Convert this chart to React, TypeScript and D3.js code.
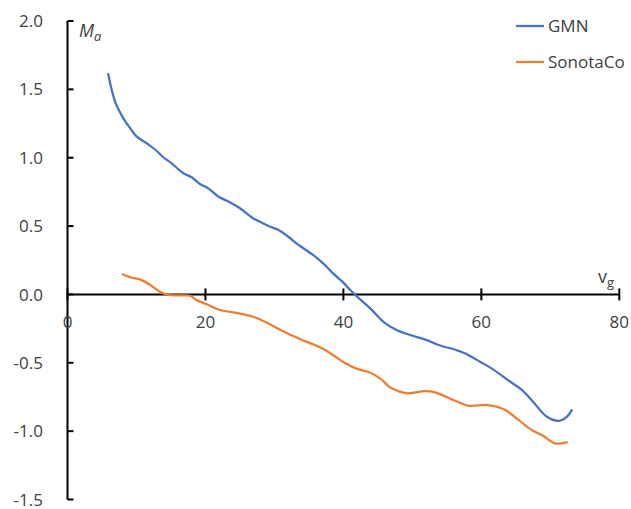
import React from "react";
import * as d3 from "d3";

const gmnV = [5.9, 6.9, 8.1, 9.1, 10.0, 11.5, 12.9, 13.9, 15.1, 16.8, 18.0, 19.2, 20.4, 21.9, 23.1, 25.0, 26.9, 27.9, 29.4, 30.6, 32.0, 33.5, 35.6, 37.3, 38.5, 40.0, 41.0, 41.9, 43.9, 45.8, 47.7, 49.7, 52.1, 53.8, 56.4, 57.6, 59.8, 61.7, 64.2, 65.9, 67.5, 69.5, 71.2, 72.4, 73.1];
const gmnM = [1.612, 1.41, 1.288, 1.215, 1.156, 1.105, 1.051, 1.003, 0.959, 0.886, 0.857, 0.808, 0.776, 0.715, 0.685, 0.63, 0.557, 0.532, 0.495, 0.471, 0.422, 0.362, 0.289, 0.216, 0.154, 0.086, 0.032, -0.012, -0.102, -0.2, -0.26, -0.297, -0.334, -0.37, -0.407, -0.431, -0.492, -0.548, -0.639, -0.7, -0.785, -0.895, -0.924, -0.895, -0.846];

const sonV = [8.0, 9.3, 10.5, 12.0, 13.4, 14.6, 16.3, 17.8, 18.7, 20.2, 22.1, 24.0, 26.9, 28.9, 31.1, 33.7, 36.6, 38.5, 40.3, 41.8, 43.9, 45.3, 47.0, 49.2, 51.8, 53.3, 56.2, 58.1, 61.0, 63.2, 65.1, 67.1, 69.0, 70.7, 72.4];
const sonM = [0.147, 0.122, 0.11, 0.069, 0.02, -0.004, -0.007, -0.01, -0.041, -0.072, -0.114, -0.131, -0.163, -0.207, -0.266, -0.326, -0.387, -0.443, -0.504, -0.541, -0.573, -0.614, -0.687, -0.723, -0.707, -0.716, -0.778, -0.814, -0.809, -0.838, -0.906, -0.985, -1.036, -1.089, -1.082];

const xTicks = [0, 20, 40, 60, 80];
const yTicks = [-1.5, -1.0, -0.5, 0.0, 0.5, 1.0, 1.5, 2.0];
const seriesNames = ["GMN", "SonotaCo"];
const seriesColors = ["#4472C4", "#ED7D31"];

const FONT = "'Open Sans', 'Liberation Sans', sans-serif";

export default function App() {
  const W = 631, H = 509;
  const x = d3.scaleLinear().domain([0, 80]).range([67.5, 619.3]);
  const y = d3.scaleLinear().domain([-1.5, 2]).range([499.5, 21]);
  const line = d3
    .line<[number, number]>()
    .x((d) => x(d[0]))
    .y((d) => y(d[1]))
    .curve(d3.curveCatmullRom.alpha(0.5));
  const gmn: [number, number][] = gmnV.map((v, i) => [v, gmnM[i]]);
  const son: [number, number][] = sonV.map((v, i) => [v, sonM[i]]);
  const fmt = (v: number) => d3.format(".1f")(v).replace("\u2212", "-");
  const y0 = y(0);

  return (
    <svg width={W} height={H} style={{ position: "absolute", left: 0, top: 0, background: "#fff" }} fontFamily={FONT}>
      <rect width={W} height={H} fill="#fff" />
      {/* y axis */}
      <line x1={x(0)} x2={x(0)} y1={y(2)} y2={y(-1.5)} stroke="#000" strokeWidth={2} />
      {yTicks.map((t) => (
        <g key={"y" + t}>
          <line x1={x(0)} x2={x(0) + 6} y1={y(t)} y2={y(t)} stroke="#000" strokeWidth={2} />
          <text x={43} y={y(t)} dy="0.36em" textAnchor="end" fontSize={17} fill="#404040">
            {fmt(t)}
          </text>
        </g>
      ))}
      {/* x axis */}
      <line x1={x(0)} x2={x(80)} y1={y0} y2={y0} stroke="#000" strokeWidth={2} />
      {xTicks.map((t) => (
        <g key={"x" + t}>
          <line x1={x(t)} x2={x(t)} y1={y0 - 6} y2={y0 + 6} stroke="#000" strokeWidth={2} />
          <text x={x(t)} y={328} textAnchor="middle" fontSize={17} fill="#404040">
            {t}
          </text>
        </g>
      ))}
      {/* axis titles */}
      <text x={79} y={37} fontSize={18} fontStyle="italic" fill="#404040">
        M<tspan fontSize={13} dy={4}>a</tspan>
      </text>
      <text x={598} y={283} fontSize={18} fill="#404040">
        v<tspan fontSize={13} dy={4}>g</tspan>
      </text>
      {/* series */}
      <path d={line(gmn) || ""} fill="none" stroke={seriesColors[0]} strokeWidth={2.25} strokeLinejoin="round" strokeLinecap="round" />
      <path d={line(son) || ""} fill="none" stroke={seriesColors[1]} strokeWidth={2.25} strokeLinejoin="round" strokeLinecap="round" />
      {/* legend */}
      {seriesNames.map((n, i) => (
        <g key={n}>
          <line x1={516} x2={544} y1={26 + i * 36} y2={26 + i * 36} stroke={seriesColors[i]} strokeWidth={2.25} />
          <text x={548} y={26 + i * 36} dy="0.36em" fontSize={17} fill="#404040">
            {n}
          </text>
        </g>
      ))}
    </svg>
  );
}
